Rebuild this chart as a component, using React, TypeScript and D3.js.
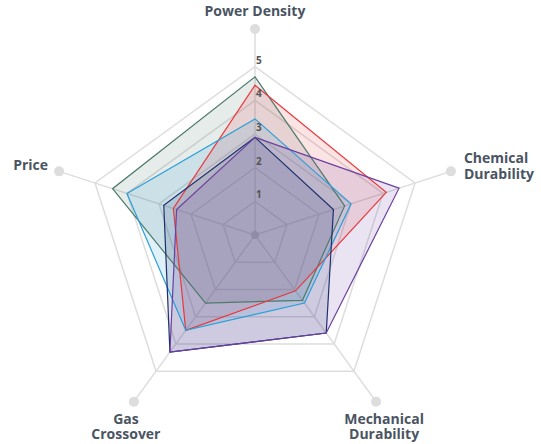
import React, { useEffect, useRef } from 'react';
import * as d3 from 'd3';

// Radar chart: five membrane properties scored 0-5
const axes = ['Power Density', 'Chemical Durability', 'Mechanical Durability', 'Gas Crossover', 'Price'];
const axisLines = [['Power Density'], ['Chemical', 'Durability'], ['Mechanical', 'Durability'], ['Gas', 'Crossover'], ['Price']];
const levels = [1, 2, 3, 4, 5];

const seriesNames = ['Membrane A', 'Membrane B', 'Membrane C', 'Membrane D', 'Membrane E'];
const greenValues = [4.7, 2.8, 2.4, 2.5, 4.45];
const redValues = [4.45, 4.1, 2.05, 3.5, 2.55];
const blueValues = [3.45, 3.0, 2.5, 3.5, 4.0];
const navyValues = [2.9, 2.45, 3.6, 4.3, 2.85];
const purpleValues = [2.9, 4.5, 3.6, 4.3, 2.45];
const seriesColors = ['#4d7a6b', '#e8383d', '#2a9fd8', '#1f2f6e', '#6b3fa0'];

export default function App() {
  const svgRef = useRef<SVGSVGElement | null>(null);

  useEffect(() => {
    if (!svgRef.current) return;
    const width = 541;
    const height = 444;
    const cx = 255;
    const cy = 235;
    const radius = 168.3;
    const dotRadius = 206;

    const svg = d3.select(svgRef.current);
    svg.selectAll('*').remove();
    svg.attr('width', width).attr('height', height);

    const r = d3.scaleLinear().domain([0, 5]).range([0, radius]);
    const angle = d3.scaleLinear().domain([0, axes.length]).range([-Math.PI / 2, Math.PI * 1.5]);
    const pt = (i: number, dist: number): [number, number] => [
      cx + dist * Math.cos(angle(i)),
      cy + dist * Math.sin(angle(i)),
    ];

    const g = svg.append('g');

    // spokes and end dots
    axes.forEach((_, i) => {
      const [x2, y2] = pt(i, dotRadius);
      g.append('line')
        .attr('x1', cx).attr('y1', cy).attr('x2', x2).attr('y2', y2)
        .attr('stroke', '#dddddd').attr('stroke-width', 1.5);
      g.append('circle').attr('cx', x2).attr('cy', y2).attr('r', 5).attr('fill', '#dddddd');
    });

    // rings
    levels.forEach(l => {
      const pts = axes.map((_, i) => pt(i, r(l)));
      g.append('polygon')
        .attr('points', pts.map(p => p.join(',')).join(' '))
        .attr('fill', 'none')
        .attr('stroke', '#dddddd')
        .attr('stroke-width', 1.5);
    });

    g.append('circle').attr('cx', cx).attr('cy', cy).attr('r', 4).attr('fill', '#cccccc');

    // series polygons
    const allSeries = [greenValues, redValues, blueValues, navyValues, purpleValues];
    const radar = d3.lineRadial<number>()
      .angle((_, i) => angle(i) + Math.PI / 2)
      .radius(d => r(d))
      .curve(d3.curveLinearClosed);

    const sg = g.append('g').attr('transform', `translate(${cx},${cy})`);
    sg.selectAll('.area')
      .data(allSeries)
      .enter()
      .append('path')
      .attr('class', 'area')
      .attr('d', d => radar(d) as string)
      .attr('fill', (_, i) => seriesColors[i])
      .attr('fill-opacity', 0.14)
      .attr('stroke', 'none');
    sg.selectAll('.outline')
      .data(allSeries)
      .enter()
      .append('path')
      .attr('class', 'outline')
      .attr('d', d => radar(d) as string)
      .attr('fill', 'none')
      .attr('stroke', (_, i) => seriesColors[i])
      .attr('stroke-width', 1.2)
      .attr('stroke-linejoin', 'miter')
      .append('title')
      .text((_, i) => seriesNames[i]);

    // tick labels
    g.selectAll('.tick-label')
      .data(levels)
      .enter()
      .append('text')
      .attr('x', cx + 1)
      .attr('y', d => cy - r(d) - 3)
      .attr('fill', '#555555')
      .attr('font-size', '10px')
      .attr('font-weight', 700)
      .attr('font-family', '"Open Sans", sans-serif')
      .text(d => d);

    // axis labels
    axes.forEach((_, i) => {
      const [px, py] = pt(i, dotRadius);
      const c = Math.cos(angle(i));
      const s = Math.sin(angle(i));
      let x = px;
      let y = py;
      let anchor = 'middle';
      if (s < -0.9) {
        y = py - 13;
      } else if (s > 0.5) {
        x = px + (c > 0 ? 8 : -8);
        y = py + 22;
      } else if (c > 0) {
        anchor = 'start';
        x = px + 13;
        y = py - 8;
      } else {
        anchor = 'end';
        x = px - 11;
        y = py - 1;
      }
      const t = g.append('text')
        .attr('text-anchor', anchor)
        .attr('fill', '#4a5462')
        .attr('font-size', '14px')
        .attr('font-weight', 700)
        .attr('font-family', '"Open Sans", sans-serif');
      axisLines[i].forEach((line, j) => {
        t.append('tspan').attr('x', x).attr('y', y + j * 15.5).text(line);
      });
    });
  }, []);

  return (
    <div style={{ position: 'fixed', left: 0, top: 0, width: 541, height: 444, background: '#fff' }}>
      <svg ref={svgRef} />
    </div>
  );
}
